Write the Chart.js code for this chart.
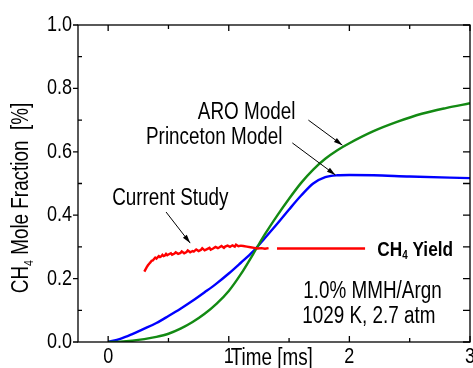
<!DOCTYPE html>
<html lang="en">
<head>
    <meta charset="UTF-8">
    <title>CH4 Mole Fraction vs Time</title>
    <script src="https://cdn.jsdelivr.net/npm/chart.js"></script>
    <style>
        body { margin: 0; background: #fff; }
    </style>
</head>
<body>
    <canvas id="ch4Chart" width="473" height="368"></canvas>

    <script>
        // axis ticks
        const xTicks = [0, 1, 2, 3];
        const xMinorTicks = [0.5, 1.5, 2.5];
        const yTicks = [0.0, 0.2, 0.4, 0.6, 0.8, 1.0];
        const yMinorTicks = [0.1, 0.3, 0.5, 0.7, 0.9];

        // ARO model
        const aroTime = [0, 0.1, 0.2, 0.3, 0.4, 0.5, 0.6, 0.7, 0.8, 0.9, 1.0, 1.1, 1.2, 1.3, 1.4, 1.5, 1.6, 1.7, 1.8, 1.9, 2.0, 2.2, 2.4, 2.6, 2.8, 3.0];
        const aroCH4 = [0, 0.001, 0.004, 0.009, 0.016, 0.026, 0.042, 0.063, 0.089, 0.121, 0.161, 0.214, 0.276, 0.340, 0.398, 0.452, 0.502, 0.544, 0.578, 0.605, 0.627, 0.665, 0.695, 0.72, 0.738, 0.753];

        // Princeton model
        const princetonTime = [0, 0.1, 0.2, 0.3, 0.4, 0.5, 0.6, 0.7, 0.8, 0.9, 1.0, 1.1, 1.2, 1.3, 1.4, 1.5, 1.6, 1.7, 1.8, 1.9, 2.0, 2.2, 2.5, 3.0];
        const princetonCH4 = [0, 0.01, 0.025, 0.042, 0.06, 0.082, 0.105, 0.13, 0.157, 0.185, 0.216, 0.25, 0.285, 0.328, 0.372, 0.418, 0.462, 0.50, 0.52, 0.526, 0.527, 0.526, 0.522, 0.517];

        // measured trace
        const studyTime = [0.30, 0.31, 0.32, 0.33, 0.34, 0.35, 0.36, 0.37, 0.38, 0.39, 0.40, 0.41, 0.42, 0.43, 0.44, 0.45, 0.46, 0.47, 0.48, 0.49,
            0.50, 0.52, 0.53, 0.55, 0.56, 0.58, 0.60, 0.61, 0.63, 0.65, 0.66, 0.68, 0.70, 0.71, 0.73, 0.75, 0.77, 0.78, 0.80, 0.82,
            0.84, 0.85, 0.87, 0.89, 0.91, 0.92, 0.94, 0.96, 0.97, 0.99, 1.01, 1.03, 1.05, 1.06, 1.08, 1.10, 1.12, 1.15, 1.18, 1.21,
            1.24, 1.27, 1.30, 1.33];
        const studyCH4 = [0.222, 0.229, 0.236, 0.242, 0.247, 0.251, 0.256, 0.257, 0.262, 0.266, 0.263, 0.267, 0.271, 0.268, 0.270, 0.275, 0.271, 0.273, 0.278, 0.274,
            0.276, 0.280, 0.275, 0.279, 0.283, 0.278, 0.281, 0.286, 0.280, 0.284, 0.289, 0.283, 0.287, 0.285, 0.292, 0.287, 0.291, 0.296, 0.289, 0.293,
            0.297, 0.291, 0.295, 0.300, 0.296, 0.298, 0.303, 0.297, 0.301, 0.304, 0.300, 0.305, 0.301, 0.307, 0.302, 0.304, 0.303, 0.301, 0.299, 0.297,
            0.295, 0.296, 0.294, 0.296];

        // CH4 yield level
        const yieldTime = [1.40, 2.13];
        const yieldCH4 = [0.295, 0.295];

        const toPoints = (xs, ys) => xs.map((x, i) => ({ x: x, y: ys[i] }));

        // annotation arrows, data coordinates [x0, y0, x1, y1]
        const arrows = [
            [0.48, 0.41, 0.68, 0.312],
            [1.66, 0.70, 1.942, 0.621],
            [1.527, 0.628, 1.884, 0.527]
        ];

        const NARROW = 0.82;
        const FONT = '"Liberation Sans", Arial, sans-serif';

        // condensed text, vertically centred on y
        function narrowText(ctx, parts, x, y, align) {
            ctx.save();
            ctx.textBaseline = 'middle';
            ctx.textAlign = 'left';
            let w = 0;
            parts.forEach(p => {
                ctx.font = p.font;
                w += ctx.measureText(p.text).width * NARROW;
            });
            let cx = align === 'right' ? x - w : align === 'center' ? x - w / 2 : x;
            parts.forEach(p => {
                ctx.font = p.font;
                ctx.save();
                ctx.translate(cx, y + (p.dy || 0));
                ctx.scale(NARROW, 1);
                ctx.fillText(p.text, 0, 0);
                ctx.restore();
                cx += ctx.measureText(p.text).width * NARROW;
            });
            ctx.restore();
        }

        const frameAndLabels = {
            id: 'frameAndLabels',
            afterDatasetsDraw(chart) {
                const ctx = chart.ctx;
                const a = chart.chartArea;
                const xs = chart.scales.x, ys = chart.scales.y;
                ctx.save();
                ctx.strokeStyle = '#000';
                ctx.fillStyle = '#000';
                ctx.lineWidth = 1.3;
                ctx.strokeRect(a.left, a.top, a.right - a.left, a.bottom - a.top);

                ctx.beginPath();
                xTicks.forEach(v => {
                    const px = xs.getPixelForValue(v);
                    ctx.moveTo(px, a.bottom); ctx.lineTo(px, a.bottom - 6);
                    ctx.moveTo(px, a.top); ctx.lineTo(px, a.top + 6);
                });
                xMinorTicks.forEach(v => {
                    const px = xs.getPixelForValue(v);
                    ctx.moveTo(px, a.bottom); ctx.lineTo(px, a.bottom - 4);
                    ctx.moveTo(px, a.top); ctx.lineTo(px, a.top + 4);
                });
                yTicks.forEach(v => {
                    const py = ys.getPixelForValue(v);
                    ctx.moveTo(a.left, py); ctx.lineTo(a.left - 5, py);
                    ctx.moveTo(a.right, py); ctx.lineTo(a.right - 7, py);
                });
                yMinorTicks.forEach(v => {
                    const py = ys.getPixelForValue(v);
                    ctx.moveTo(a.left, py); ctx.lineTo(a.left + 4, py);
                    ctx.moveTo(a.right, py); ctx.lineTo(a.right - 7, py);
                });
                ctx.stroke();

                const tickFont = '22px ' + FONT;
                yTicks.forEach(v => {
                    narrowText(ctx, [{ text: v.toFixed(1), font: tickFont }], a.left - 6, ys.getPixelForValue(v), 'right');
                });
                xTicks.forEach(v => {
                    narrowText(ctx, [{ text: String(v), font: tickFont }], xs.getPixelForValue(v), 357, 'center');
                });

                const f = '23px ' + FONT;
                const sub = '13px ' + FONT;
                narrowText(ctx, [{ text: 'Time [ms]', font: f }], xs.getPixelForValue(1) + 2, 359, 'left');

                // rotated y title
                ctx.save();
                ctx.translate(22, 198);
                ctx.rotate(-Math.PI / 2);
                narrowText(ctx, [
                    { text: 'CH', font: f },
                    { text: '4', font: sub, dy: 7 },
                    { text: ' Mole Fraction  [%]', font: f }
                ], 0, 0, 'center');
                ctx.restore();

                const at = (x, y) => [xs.getPixelForValue(x), ys.getPixelForValue(y)];
                let p;
                p = at(1.552, 0.722); narrowText(ctx, [{ text: 'ARO Model', font: f }], p[0], p[1], 'right');
                p = at(1.444, 0.644); narrowText(ctx, [{ text: 'Princeton Model', font: f }], p[0], p[1], 'right');
                p = at(0.033, 0.451); narrowText(ctx, [{ text: 'Current Study', font: f }], p[0], p[1], 'left');
                p = at(2.232, 0.290);
                narrowText(ctx, [
                    { text: 'CH', font: 'bold 21px ' + FONT },
                    { text: '4', font: 'bold 12px ' + FONT, dy: 6 },
                    { text: ' Yield', font: 'bold 21px ' + FONT }
                ], p[0], p[1], 'left');
                p = at(1.618, 0.158); narrowText(ctx, [{ text: '1.0% MMH/Argn', font: f }], p[0], p[1], 'left');
                p = at(1.61, 0.079); narrowText(ctx, [{ text: '1029 K, 2.7 atm', font: f }], p[0], p[1], 'left');

                // arrows
                ctx.lineWidth = 1;
                arrows.forEach(r => {
                    const [x0, y0] = at(r[0], r[1]);
                    const [x1, y1] = at(r[2], r[3]);
                    const ang = Math.atan2(y1 - y0, x1 - x0);
                    ctx.beginPath();
                    ctx.moveTo(x0, y0); ctx.lineTo(x1, y1);
                    ctx.stroke();
                    ctx.beginPath();
                    ctx.moveTo(x1, y1);
                    ctx.lineTo(x1 - 9 * Math.cos(ang - 0.28), y1 - 9 * Math.sin(ang - 0.28));
                    ctx.lineTo(x1 - 9 * Math.cos(ang + 0.28), y1 - 9 * Math.sin(ang + 0.28));
                    ctx.closePath();
                    ctx.fill();
                });
                ctx.restore();
            }
        };

        const lineStyle = { pointRadius: 0, borderWidth: 2.4, fill: false, cubicInterpolationMode: 'monotone' };

        new Chart(document.getElementById('ch4Chart').getContext('2d'), {
            type: 'line',
            data: {
                datasets: [
                    Object.assign({ label: 'Current Study', data: toPoints(studyTime, studyCH4), borderColor: '#ff0000' }, lineStyle, { cubicInterpolationMode: 'default', tension: 0 }),
                    Object.assign({ label: 'CH4 Yield', data: toPoints(yieldTime, yieldCH4), borderColor: '#ff0000' }, lineStyle),
                    Object.assign({ label: 'ARO Model', data: toPoints(aroTime, aroCH4), borderColor: '#138a13' }, lineStyle),
                    Object.assign({ label: 'Princeton Model', data: toPoints(princetonTime, princetonCH4), borderColor: '#0000ff' }, lineStyle)
                ]
            },
            options: {
                responsive: false,
                animation: false,
                layout: { padding: { left: 78, right: 3, top: 25, bottom: 26 } },
                plugins: { legend: { display: false }, tooltip: { enabled: false } },
                scales: {
                    x: { type: 'linear', min: -0.25, max: 3.0, display: false },
                    y: { type: 'linear', min: 0, max: 1.0, display: false }
                }
            },
            plugins: [frameAndLabels]
        });
    </script>
</body>
</html>
